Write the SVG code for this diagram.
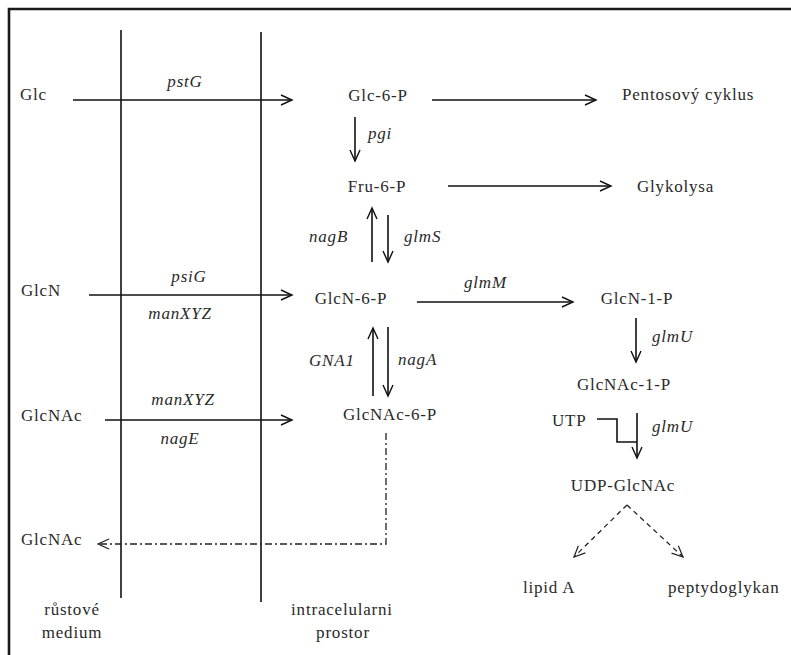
<svg xmlns="http://www.w3.org/2000/svg" width="791" height="655" viewBox="0 0 791 655">
<defs>
<marker id="ah" markerWidth="14" markerHeight="12" refX="12" refY="6" orient="auto" markerUnits="userSpaceOnUse">
<path d="M1,1 L12,6 L1,11" fill="none" stroke="#111" stroke-width="1.4"/>
</marker>
<marker id="ahd" markerWidth="14" markerHeight="12" refX="12" refY="6" orient="auto" markerUnits="userSpaceOnUse">
<path d="M1,1 L12,6 L1,11" fill="none" stroke="#222" stroke-width="1.2"/>
</marker>
</defs>
<style>
text{font-family:'Liberation Serif','DejaVu Serif',serif;font-size:17px;letter-spacing:0.8px;fill:#2a2a2a}
.i{font-style:italic}
.c{text-anchor:middle}
.ln{stroke:#111;stroke-width:1.6;fill:none}
.ar{stroke:#111;stroke-width:1.6;fill:none;marker-end:url(#ah)}
.dd{stroke:#222;stroke-width:1.3;fill:none;stroke-dasharray:5,4;marker-end:url(#ahd)}
.dc{stroke:#222;stroke-width:1.3;fill:none;stroke-dasharray:7,3,2,3;marker-end:url(#ahd)}
</style>
<rect width="791" height="655" fill="#fff"/>
<g id="frame">
<path d="M9,655 L9,9 L791,9" stroke="#1a1a1a" stroke-width="2.6" fill="none"/>
<line class="ln" x1="121" y1="30" x2="121" y2="598"/>
<line class="ln" x1="261" y1="32" x2="261" y2="602"/>
</g>
<g id="connectors">
<line class="ar" x1="73" y1="100" x2="292" y2="100"/>
<line class="ar" x1="432" y1="100" x2="596" y2="100"/>
<line class="ar" x1="355" y1="117" x2="355" y2="161"/>
<line class="ar" x1="448" y1="186" x2="611" y2="186"/>
<line class="ar" x1="372" y1="262" x2="372" y2="208"/>
<line class="ar" x1="388" y1="215" x2="388" y2="262"/>
<line class="ar" x1="89" y1="295" x2="292" y2="295"/>
<line class="ar" x1="417" y1="302" x2="573" y2="302"/>
<line class="ar" x1="373" y1="396" x2="373" y2="328"/>
<line class="ar" x1="388" y1="327" x2="388" y2="396"/>
<line class="ar" x1="105" y1="420" x2="292" y2="420"/>
<line class="ar" x1="636" y1="318" x2="636" y2="362"/>
<path class="ln" d="M597,419 L617,419 L617,442 L637,442"/>
<line class="ar" x1="637" y1="413" x2="637" y2="458"/>
<line class="dd" x1="627" y1="505" x2="574" y2="557"/>
<line class="dd" x1="627" y1="505" x2="683" y2="557"/>
<path class="dc" d="M386,433 L386,544 L98,544"/>
</g>
<g id="labels">
<text class="i c" x="185" y="87">pstG</text>
<text class="i c" x="189" y="282">psiG</text>
<text class="i c" x="180" y="319">manXYZ</text>
<text class="i c" x="183" y="405">manXYZ</text>
<text class="i c" x="180" y="444">nagE</text>
<text class="i" x="368" y="139">pgi</text>
<text class="i" x="309" y="242">nagB</text>
<text class="i" x="404" y="242">glmS</text>
<text class="i" x="464" y="288">glmM</text>
<text class="i" x="309" y="366">GNA1</text>
<text class="i" x="398" y="365">nagA</text>
<text class="i" x="652" y="342">glmU</text>
<text class="i" x="652" y="432">glmU</text>
</g>
<g id="n-glc"><text x="20" y="100">Glc</text></g>
<g id="n-glc6p"><text class="c" x="378" y="101">Glc-6-P</text></g>
<g id="n-pentos"><text x="622" y="100">Pentosový cyklus</text></g>
<g id="n-fru6p"><text class="c" x="377" y="192">Fru-6-P</text></g>
<g id="n-glykolysa"><text x="637" y="192">Glykolysa</text></g>
<g id="n-glcn"><text x="21" y="296">GlcN</text></g>
<g id="n-glcn6p"><text class="c" x="351" y="304">GlcN-6-P</text></g>
<g id="n-glcn1p"><text class="c" x="637" y="304">GlcN-1-P</text></g>
<g id="n-glcnac-in"><text x="21" y="421">GlcNAc</text></g>
<g id="n-glcnac6p"><text class="c" x="390" y="420">GlcNAc-6-P</text></g>
<g id="n-glcnac1p"><text class="c" x="624" y="390">GlcNAc-1-P</text></g>
<g id="n-utp"><text x="552" y="426">UTP</text></g>
<g id="n-udp"><text class="c" x="623" y="491">UDP-GlcNAc</text></g>
<g id="n-lipid"><text x="523" y="593">lipid A</text></g>
<g id="n-pepty"><text x="668" y="593">peptydoglykan</text></g>
<g id="n-glcnac-out"><text x="21" y="545">GlcNAc</text></g>
<g id="n-medium"><text class="c" x="72" y="615">růstové</text><text class="c" x="72" y="638">medium</text></g>
<g id="n-intra"><text class="c" x="342" y="615">intracelularni</text><text class="c" x="343" y="638">prostor</text></g>
</svg>
